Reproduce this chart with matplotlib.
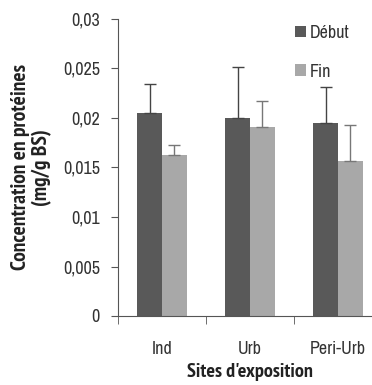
import matplotlib
matplotlib.use("Agg")
import matplotlib.pyplot as plt
from matplotlib import font_manager

# data
sites = ["Ind", "Urb", "Peri-Urb"]
debut = [0.0205, 0.0200, 0.0195]
fin = [0.0163, 0.0191, 0.0157]
debut_err = [0.0029, 0.0052, 0.0036]
fin_err = [0.0010, 0.0026, 0.0036]
yticks = [0, 0.005, 0.01, 0.015, 0.02, 0.025, 0.03]
ytick_labels = ["0", "0,005", "0,01", "0,015", "0,02", "0,025", "0,03"]

# pick narrow fonts like the Arial Narrow of the original
fonts = font_manager.fontManager.ttflist
candidates = ["Liberation Sans Narrow", "Archivo Narrow", "PT Sans Narrow", "Roboto Condensed",
              "Fira Sans Condensed"]
narrow = "Liberation Sans"
narrow_bold = "Liberation Sans"
for cand in candidates:
    if any(f.name == cand for f in fonts):
        narrow = cand
        break
for cand in candidates:
    if any(f.name == cand and f.weight in (700, "bold") for f in fonts):
        narrow_bold = cand
        break
plt.rcParams['font.family'] = [narrow, 'DejaVu Sans']

dark = "#595959"
light = "#a8a8a8"

fig = plt.figure(figsize=(3.72, 3.85), dpi=100)
ax = fig.add_axes([118/372, 69/385, 264/372, 297/385])

w = 0.28
x = range(len(sites))
xd = [i - w/2 for i in x]
xf = [i + w/2 for i in x]
ax.bar(xd, debut, width=w, color=dark, label="Début")
ax.bar(xf, fin, width=w, color=light, label="Fin")
# only upper error bars
ax.errorbar(xd, debut, yerr=[[0]*3, debut_err], fmt="none", ecolor="#444444",
            elinewidth=1, capsize=4, capthick=1)
ax.errorbar(xf, fin, yerr=[[0]*3, fin_err], fmt="none", ecolor="#777777",
            elinewidth=1, capsize=4, capthick=1)

ax.set_xlim(-0.5, 2.5)
ax.set_ylim(0, 0.03)
ax.set_yticks(yticks)
ax.set_yticklabels(ytick_labels, fontsize=13, color="#333333")
ax.set_xticks(list(x))
ax.set_xticklabels(sites, fontsize=13, color="#333333")
ax.tick_params(axis="x", length=0, pad=18)
ax.set_xticks([-0.5, 0.5, 1.5], minor=True)
ax.tick_params(axis="x", which="minor", length=6, color="#555555", direction="out")
ax.tick_params(axis="y", length=5, color="#555555", pad=8)

for s in ["top", "right"]:
    ax.spines[s].set_visible(False)
ax.spines["left"].set_color("#555555")
ax.spines["bottom"].set_color("#555555")

ax.set_ylabel("Concentration en protéines\n(mg/g BS)", fontsize=15.5, fontweight="bold",
              family=[narrow_bold, 'DejaVu Sans'], color="#222222", labelpad=8,
              linespacing=1.1)
ax.set_xlabel("Sites d'exposition", fontsize=14.5, fontweight="bold",
              family=[narrow_bold, 'DejaVu Sans'], color="#222222", labelpad=4)

ax.legend(loc="upper left", bbox_to_anchor=(0.67, 0.98), frameon=False, fontsize=13,
          handlelength=0.6, handleheight=0.6, handletextpad=0.25, labelspacing=1.25,
          borderpad=0, borderaxespad=0, labelcolor="#333333")

fig.savefig("out.png", dpi=100)
